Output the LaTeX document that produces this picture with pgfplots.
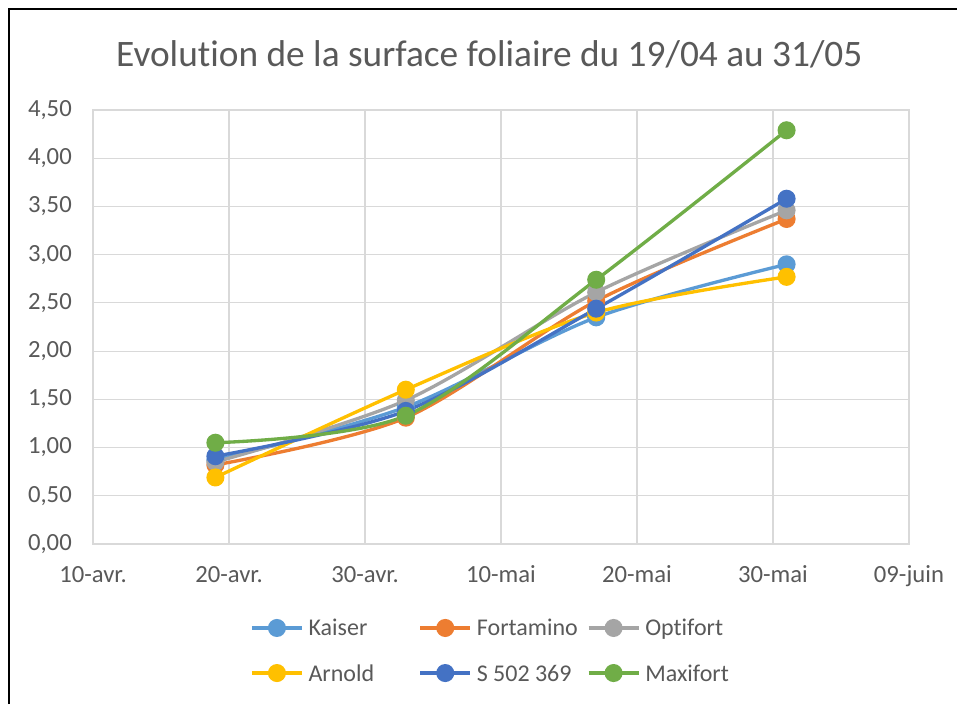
\documentclass[border=0pt]{standalone}
\usepackage{pgfplots}
\pgfplotsset{compat=1.18}
\usepackage{fontspec}
\setmainfont{Carlito}[Ligatures=NoCommon]
\definecolor{cKaiser}{HTML}{5B9BD5}
\definecolor{cFortamino}{HTML}{ED7D31}
\definecolor{cOptifort}{HTML}{A5A5A5}
\definecolor{cArnold}{HTML}{FFC000}
\definecolor{cS}{HTML}{4472C4}
\definecolor{cMaxifort}{HTML}{70AD47}
\definecolor{textgray}{HTML}{595959}
\definecolor{gridgray}{HTML}{D9D9D9}
\begin{document}
\begin{tikzpicture}[x=1pt,y=1pt]
\useasboundingbox[fill=white] (0,0) rectangle (717.75,528);
\draw[line width=2pt] (6.75,0) -- (6.75,521.25) -- (717.75,521.25);
\node[anchor=base, font=\fontsize{28}{33}\selectfont, text=textgray, inner sep=0pt] at (367,478) {Evolution de la surface foliaire du 19/04 au 31/05};
\begin{axis}[
  at={(69.75pt,120pt)}, anchor=south west,
  scale only axis, width=612pt, height=325.5pt,
  xmin=0, xmax=60, ymin=0, ymax=4.5,
  xtick={0,10,20,30,40,50,60},
  xticklabels={10-avr.,20-avr.,30-avr.,10-mai,20-mai,30-mai,09-juin},
  ytick={0,0.5,1,1.5,2,2.5,3,3.5,4,4.5},
  /pgf/number format/use comma,
  /pgf/number format/fixed,
  /pgf/number format/fixed zerofill,
  /pgf/number format/precision=2,
  /pgf/number format/assume math mode=true,
  ticklabel style={font=\fontsize{18.5}{21}\selectfont, text=textgray, inner sep=0pt},
  yticklabel style={xshift=-15.75pt},
  xticklabel style={text height=11.4pt, yshift=-17.4pt},
  major tick length=0pt,
  grid=major,
  major grid style={gridgray, line width=0.9pt},
  axis line style={gridgray, line width=0.9pt},
  every axis plot/.append style={line width=2.5pt, smooth, mark=*, mark size=5.5pt, mark options={solid}},
  legend columns=3,
  legend cell align=left,
  legend style={at={(0.1924,-0.2454)}, anchor=west, draw=none, fill=none, inner sep=0pt,
    column sep=0pt, row sep=0pt,
    font=\fontsize{18}{21}\selectfont, text=textgray,
    nodes={inner sep=0pt, text width=82.5pt, align=left, text height=22.9pt, text depth=10.9pt}},
  legend image code/.code={\draw[mark repeat=2,mark phase=2] plot coordinates {(0pt,0pt)(18.75pt,0pt)(37.5pt,0pt)}; \path (41.25pt,0pt);},
]
\addplot[color=cKaiser] coordinates {(9,0.87) (23,1.42) (37,2.35) (51,2.90)};
\addlegendentry{Kaiser}
\addplot[color=cFortamino] coordinates {(9,0.82) (23,1.31) (37,2.52) (51,3.37)};
\addlegendentry{Fortamino}
\addplot[color=cOptifort] coordinates {(9,0.85) (23,1.49) (37,2.61) (51,3.46)};
\addlegendentry{Optifort}
\addplot[color=cArnold] coordinates {(9,0.69) (23,1.60) (37,2.40) (51,2.77)};
\addlegendentry{Arnold}
\addplot[color=cS] coordinates {(9,0.91) (23,1.38) (37,2.44) (51,3.58)};
\addlegendentry{S\hspace{0.22em}502\hspace{0.22em}369}
\addplot[color=cMaxifort] coordinates {(9,1.05) (23,1.33) (37,2.74) (51,4.29)};
\addlegendentry{Maxifort}
\end{axis}
\end{tikzpicture}
\end{document}
